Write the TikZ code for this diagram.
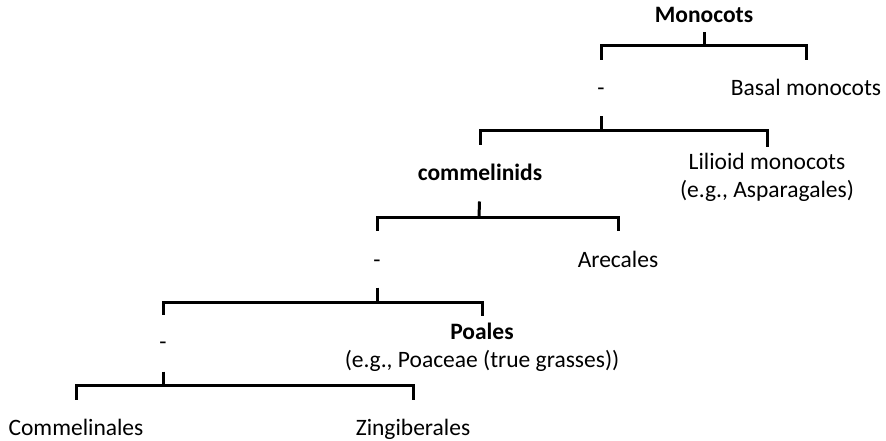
\documentclass[tikz,border=0pt]{standalone}
\usepackage{fontspec}
\setmainfont{Carlito}

\begin{document}
\begin{tikzpicture}[x=1pt,y=-1pt,line width=3pt,line join=miter,
        taxon/.style={inner sep=0pt,anchor=base,text height=16pt,text depth=5pt,font=\fontsize{23.5pt}{28pt}\selectfont},
        taxa/.style={inner sep=0pt,anchor=north,align=center,font=\fontsize{23.5pt}{28pt}\selectfont}]
        \useasboundingbox (0,0) rectangle (886,441);
        \node[taxon] (monocots) at (704,23) {\textbf{Monocots}};
        \node[taxon] (u1) at (601,96) {-};
        \node[taxon] (basal) at (806,96) {Basal monocots};
        \node[taxon] (commelinids) at (480,180) {\textbf{commelinids}};
        \node[taxa] (lilioid) at (767,152) {Lilioid monocots\\(e.g., Asparagales)};
        \node[taxon] (u2) at (377,267) {-};
        \node[taxon] (arecales) at (618,267) {Arecales};
        \node[taxon] (u3) at (163,349) {-};
        \node[taxa] (poales) at (482,322) {\textbf{Poales}\\(e.g., Poaceae (true grasses))};
        \node[taxon] (commelinales) at (76,435) {Commelinales};
        \node[taxon] (zingiberales) at (413,435) {Zingiberales};

        % forks
        \coordinate (f1) at (704,46);
        \coordinate (f2) at (601,131);
        \coordinate (f3) at (479,217);
        \coordinate (f4) at (377,302);
        \coordinate (f5) at (163,385);

        \draw[shorten <=3pt] (monocots.south) -- (f1);
        \draw[shorten >=18pt] (f1) -| (u1.north);
        \draw[shorten >=18pt] (f1) -| (basal.north);

        \draw[shorten <=14pt] (u1.south) -- (f2);
        \draw[shorten >=17pt] (f2) -| (commelinids.north);
        \draw[shorten >=5pt] (f2) -| (lilioid.north);

        \draw[shorten <=15pt] (commelinids.south) -- (f3);
        \draw[shorten >=19pt] (f3) -| (u2.north);
        \draw[shorten >=19pt] (f3) -| (arecales.north);

        \draw[shorten <=14pt] (u2.south) -- (f4);
        \draw[shorten >=17pt] (f4) -| (u3.north);
        \draw[shorten >=6pt] (f4) -| (poales.north);

        \draw[shorten <=16pt] (u3.south) -- (f5);
        \draw[shorten >=18pt] (f5) -| (commelinales.north);
        \draw[shorten >=18pt] (f5) -| (zingiberales.north);
\end{tikzpicture}
\end{document}
